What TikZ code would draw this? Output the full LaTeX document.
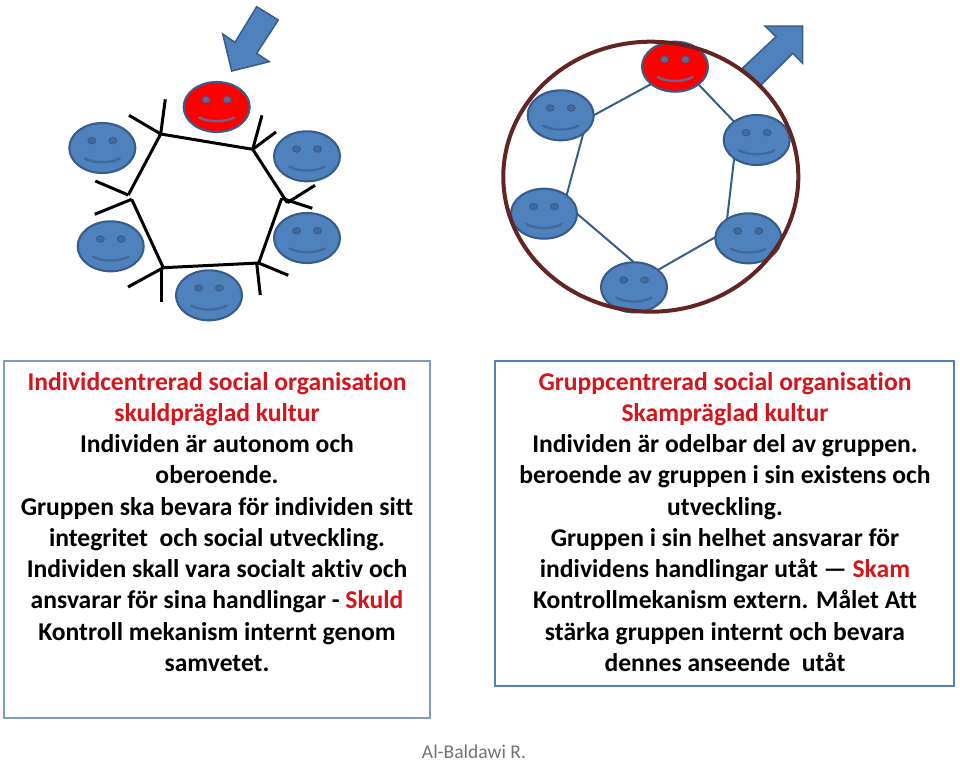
\documentclass[tikz,border=0pt]{standalone}
\usepackage{fontspec}
\setmainfont[Ligatures=NoCommon]{Carlito}
\usetikzlibrary{shapes.geometric}
\definecolor{faceblue}{HTML}{4F81BD}
\definecolor{facerim}{HTML}{385D8A}
\definecolor{eyeblue}{HTML}{41699C}
\definecolor{facered}{HTML}{FF0000}
\definecolor{eyered}{HTML}{73608C}
\definecolor{ringred}{HTML}{632523}
\definecolor{alert}{HTML}{D5141C}
\definecolor{thinbox}{HTML}{7F9DC3}
\tikzset{
  x=1pt,y=-1pt,
  face/.style={ellipse,draw=facerim,line width=2.1pt,minimum width=66pt,minimum height=50pt,inner sep=0pt,outer sep=0pt},
  eye/.style={line width=0.8pt,draw=facerim},
  smile/.style={line width=2.4pt,line cap=round},
  limb/.style={draw=black,line width=3pt},
  link/.style={draw=facerim,line width=2pt},
  bigarrow/.style={draw=facerim,fill=faceblue,line width=1.5pt},
  panel/.style={draw=#1,fill=white,inner sep=0pt,outer sep=0pt},
  body/.style={font=\bfseries\fontsize{25.6}{31.25}\selectfont,align=center,inner sep=0pt,anchor=north},
}
\newcommand{\smiley}[5]{%
  \node[face,fill=#4] (#1) at (#2,#3) {};
  \begin{scope}[shift={(#2,#3)}]
    \filldraw[eye,fill=#5] (-10.5,-7.3) ellipse [x radius=4,y radius=3.3];
    \filldraw[eye,fill=#5] (10.5,-7.3) ellipse [x radius=4,y radius=3.3];
    \draw[smile,draw=#5] (-17.5,10.5) .. controls (-8,15.5) and (8,15.5) .. (17.5,10.5);
  \end{scope}}
\begin{document}
\begin{tikzpicture}
\useasboundingbox (0,0) rectangle (960,763);
% left arrow
\draw[bigarrow] (256.7,6.7) -- (278.3,20) -- (256.7,53.3) -- (269.3,61.7) -- (231.7,71) -- (222.7,34) -- (235,42.3) -- cycle;
% left faces
\smiley{la}{216.7}{107}{facered}{eyered}
\smiley{lb}{307}{156.3}{faceblue}{eyeblue}
\smiley{lc}{307}{238}{faceblue}{eyeblue}
\smiley{ld}{209}{295.3}{faceblue}{eyeblue}
\smiley{le}{110.7}{246.3}{faceblue}{eyeblue}
\smiley{lf}{102.3}{148}{faceblue}{eyeblue}
% hexagon corners
\coordinate (h1) at (160.7,134);
\coordinate (h2) at (252.7,149.3);
\coordinate (h3) at (287.3,202.7);
\coordinate (h3b) at (281.7,198.3);
\coordinate (h4) at (258.7,263);
\coordinate (h5) at (163.3,267.7);
\coordinate (h6) at (131.7,199.3);
\coordinate (h7) at (128.3,195);
\coordinate (t1a) at (165.3,99.3);
\coordinate (t1b) at (129,115.3);
\coordinate (t2a) at (262,115.3);
\coordinate (t2b) at (276,132);
\coordinate (t3a) at (315,185.3);
\coordinate (t3b) at (312.3,208.3);
\coordinate (t4a) at (288.3,275.3);
\coordinate (t4b) at (260.3,295);
\coordinate (t5a) at (128,287);
\coordinate (t5b) at (161.3,301.7);
\coordinate (t5c) at (161.3,270);
\coordinate (t7a) at (95.3,181);
\coordinate (t6a) at (94.7,214.3);
\coordinate (h4b) at (256.7,263.3);
\draw[limb] (h1) -- (h2);
\draw[limb] (h1) -- (h7);
\draw[limb] (h2) -- (h3);
\draw[limb] (h3b) -- (h4);
\draw[limb] (h4) -- (h5);
\draw[limb] (h5) -- (h6);
\draw[limb] (h1) -- (t1a);
\draw[limb] (h1) -- (t1b);
\draw[limb] (h2) -- (t2a);
\draw[limb] (h2) -- (t2b);
\draw[limb] (h3) -- (t3a);
\draw[limb] (h3b) -- (t3b);
\draw[limb] (h4) -- (t4a);
\draw[limb] (h4b) -- (t4b);
\draw[limb] (h5) -- (t5a);
\draw[limb] (t5c) -- (t5b);
\draw[limb] (h7) -- (t7a);
\draw[limb] (h6) -- (t6a);
% right arrow
\draw[bigarrow] (742.3,68.3) -- (776,36.7) -- (765,26) -- (802.7,26) -- (802.7,63.3) -- (792.7,53.3) -- (760,86) -- cycle;
% right faces
\smiley{ra}{675}{66.7}{facered}{eyered}
\smiley{rb}{756.7}{140}{faceblue}{eyeblue}
\smiley{rc}{748.3}{238.3}{faceblue}{eyeblue}
\smiley{rd}{634}{287.3}{faceblue}{eyeblue}
\smiley{re}{544}{213.7}{faceblue}{eyeblue}
\smiley{rf}{560.7}{115.3}{faceblue}{eyeblue}
\draw[link] (ra.216) -- (rf.0);
\draw[link] (ra.-37) -- (rb.141);
\draw[link] (rb.219) -- (rc.138);
\draw[link] (rc.178) -- (rd.36);
\draw[link] (rd.90) -- (re.0);
\draw[link] (re.39) -- (rf.-39);
\node[ellipse,draw=ringred,line width=4pt,minimum width=295pt,minimum height=270pt,inner sep=0pt] (ring) at (650.8,176.7) {};
% text panels
\node[panel=thinbox,line width=1.4pt,minimum width=426pt,minimum height=357pt] (leftbox) at (217,539.5) {};
\node[panel=faceblue,line width=2.6pt,minimum width=459pt,minimum height=325pt] (rightbox) at (724.5,523.5) {};
\node[body] (lefttext) at (217,372) {\textcolor{alert}{Individcentrerad social organisation}\\
\textcolor{alert}{skuldpräglad kultur}\\
Individen är autonom och\\
oberoende.\\
Gruppen ska bevara för individen sitt\\
integritet\ \ och social utveckling.\\
Individen skall vara socialt aktiv och\\
ansvarar för sina handlingar - \textcolor{alert}{Skuld}\\
Kontroll mekanism internt genom\\
samvetet.};
\node[body] (righttext) at (725,372) {\textcolor{alert}{Gruppcentrerad social organisation}\\
\textcolor{alert}{Skampräglad kultur}\\
Individen är odelbar del av gruppen.\\
beroende av gruppen i sin existens och\\
utveckling.\\
Gruppen i sin helhet ansvarar för\\
individens handlingar utåt — \textcolor{alert}{Skam}\\
Kontrollmekanism extern. Målet Att\\
stärka gruppen internt och bevara\\
dennes anseende\ \ utåt};
\node[font=\fontsize{19.5}{22}\selectfont,text=black!55,inner sep=0pt,anchor=base] (credit) at (474,758) {Al-Baldawi R.};
\end{tikzpicture}
\end{document}
